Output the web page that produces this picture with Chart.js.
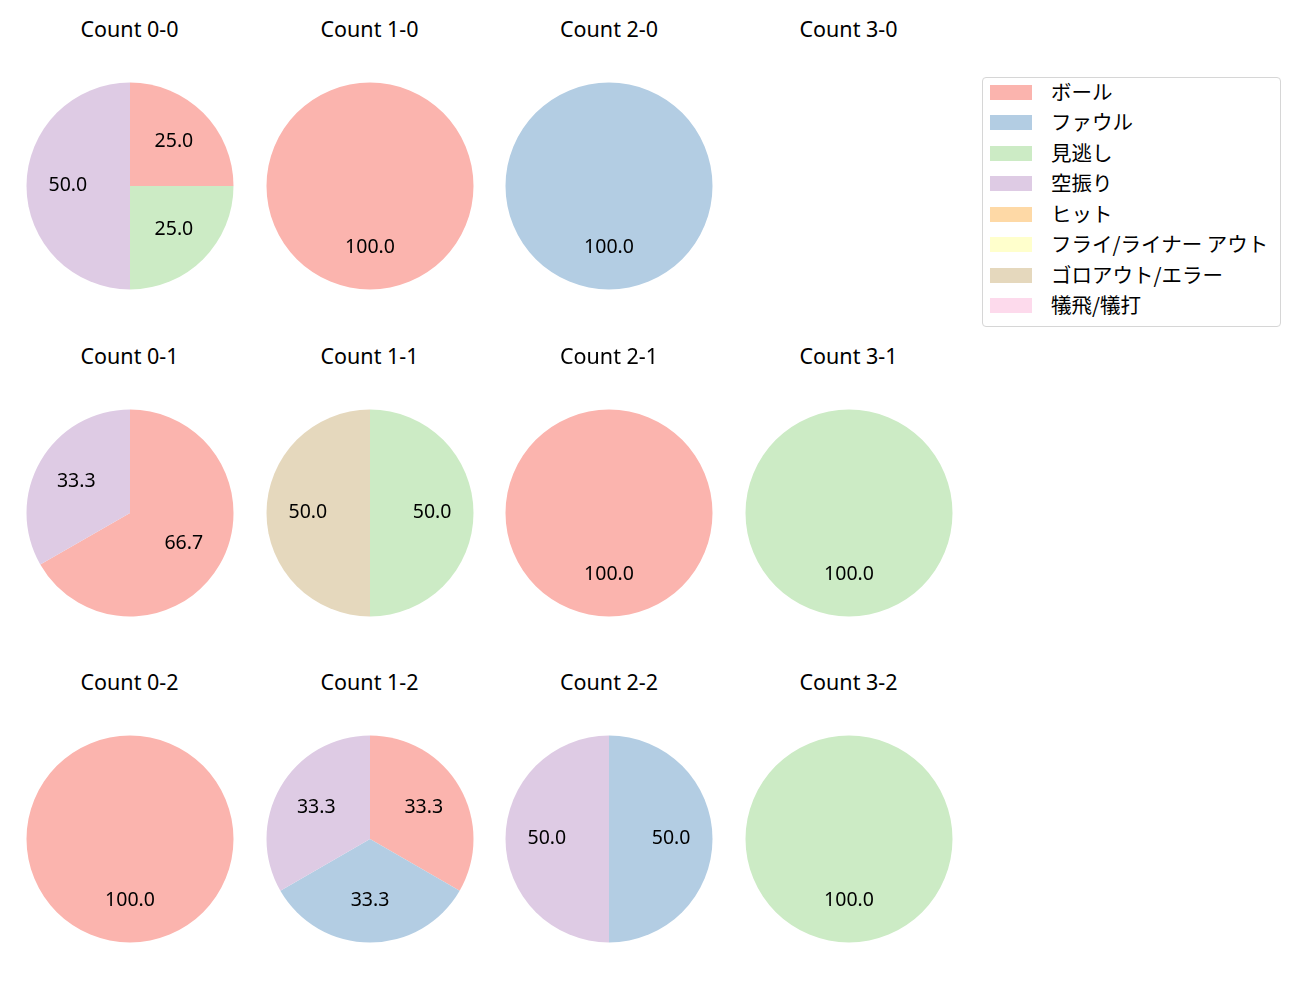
<!DOCTYPE html>
<html lang="ja">
<head>
<meta charset="UTF-8">
<title>Count pies</title>
<script src="https://cdn.jsdelivr.net/npm/chart.js@4.4.1/dist/chart.umd.min.js"></script>
<style>
    * { box-sizing: border-box; }
    body { margin: 0; background: #fff; font-family: "Noto Sans", "Noto Sans CJK JP", sans-serif; }
    #stage { position: relative; width: 1300px; height: 1000px; }
    .title { position: absolute; width: 240px; text-align: center; font-size: 21.5px; color: #000; line-height: 24px; }
    .pie { position: absolute; }
    #legend { position: absolute; left: 982px; top: 77px; width: 299px; height: 250px;
        border: 1px solid #d6d6d6; border-radius: 4px; background: #fff; }
    .row { position: absolute; left: 7px; height: 24px; line-height: 24px; color: #000;
        font-family: "Noto Sans CJK JP", sans-serif; font-size: 20.5px; }
    .row span.sw { position: absolute; left: 0; top: 6px; width: 42px; height: 15px; }
    .row span.tx { position: absolute; left: 61px; top: 0; white-space: nowrap; }
</style>
</head>
<body>
<div id="stage"><div id="legend"></div></div>
<script>
    // categories and colours (pastel)
    const categories = ['ボール', 'ファウル', '見逃し', '空振り', 'ヒット', 'フライ/ライナー アウト', 'ゴロアウト/エラー', '犠飛/犠打'];
    const colors = ['#fbb4ae', '#b3cde3', '#ccebc5', '#decbe4', '#fed9a6', '#ffffcc', '#e5d8bd', '#fddaec'];

    // percentage per category, one array per count
    const count00 = [25, 0, 25, 50, 0, 0, 0, 0];
    const count10 = [100, 0, 0, 0, 0, 0, 0, 0];
    const count20 = [0, 100, 0, 0, 0, 0, 0, 0];
    const count30 = [];
    const count01 = [66.7, 0, 0, 33.3, 0, 0, 0, 0];
    const count11 = [0, 0, 50, 0, 0, 0, 50, 0];
    const count21 = [100, 0, 0, 0, 0, 0, 0, 0];
    const count31 = [0, 0, 100, 0, 0, 0, 0, 0];
    const count02 = [100, 0, 0, 0, 0, 0, 0, 0];
    const count12 = [33.3, 33.3, 0, 33.3, 0, 0, 0, 0];
    const count22 = [0, 50, 0, 50, 0, 0, 0, 0];
    const count32 = [0, 0, 100, 0, 0, 0, 0, 0];

    const panels = [
        ['Count 0-0', count00], ['Count 1-0', count10], ['Count 2-0', count20], ['Count 3-0', count30],
        ['Count 0-1', count01], ['Count 1-1', count11], ['Count 2-1', count21], ['Count 3-1', count31],
        ['Count 0-2', count02], ['Count 1-2', count12], ['Count 2-2', count22], ['Count 3-2', count32]
    ];

    const colX = [129.5, 369.5, 609, 848.5];
    const rowY = [186, 512.5, 839];
    const titleY = [30, 356.5, 683];
    const SIZE = 240;

    // pct labels at 0.6 of radius, like matplotlib autopct
    const pctLabels = {
        id: 'pctLabels',
        afterDatasetsDraw(chart) {
            const ctx = chart.ctx;
            const meta = chart.getDatasetMeta(0);
            const vals = chart.data.datasets[0].data;
            ctx.save();
            ctx.font = '19.5px "Noto Sans", sans-serif';
            ctx.fillStyle = '#000';
            ctx.textAlign = 'center';
            ctx.textBaseline = 'middle';
            meta.data.forEach((arc, i) => {
                if (!vals[i]) return;
                const p = arc.getProps(['x', 'y', 'startAngle', 'endAngle', 'outerRadius'], true);
                const mid = (p.startAngle + p.endAngle) / 2;
                const r = p.outerRadius * 0.6;
                ctx.fillText(vals[i].toFixed(1), p.x + Math.cos(mid) * r, p.y + Math.sin(mid) * r - 0.5);
            });
            ctx.restore();
        }
    };

    const stage = document.getElementById('stage');

    panels.forEach(([title, vals], k) => {
        const c = k % 4, r = Math.floor(k / 4);
        const t = document.createElement('div');
        t.className = 'title';
        t.style.left = (colX[c] - 120) + 'px';
        t.style.top = (titleY[r] - 12.7) + 'px';
        t.textContent = title;
        stage.appendChild(t);

        if (!vals.length) return;
        const cv = document.createElement('canvas');
        cv.className = 'pie';
        cv.width = SIZE;
        cv.height = SIZE;
        cv.style.left = (colX[c] - SIZE / 2) + 'px';
        cv.style.top = (rowY[r] - SIZE / 2) + 'px';
        stage.appendChild(cv);

        new Chart(cv, {
            type: 'pie',
            data: {
                labels: categories,
                datasets: [{ data: vals, backgroundColor: colors, borderWidth: 0 }]
            },
            options: {
                responsive: false,
                animation: false,
                layout: { padding: 16.5 },
                plugins: { legend: { display: false }, tooltip: { enabled: false } }
            },
            plugins: [pctLabels]
        });
    });

    // legend
    const legend = document.getElementById('legend');
    categories.forEach((name, i) => {
        const row = document.createElement('div');
        row.className = 'row';
        row.style.top = (0.5 + i * 30.5) + 'px';
        row.innerHTML = '<span class="sw" style="background:' + colors[i] + '"></span><span class="tx">' + name + '</span>';
        legend.appendChild(row);
    });
</script>
</body>
</html>
